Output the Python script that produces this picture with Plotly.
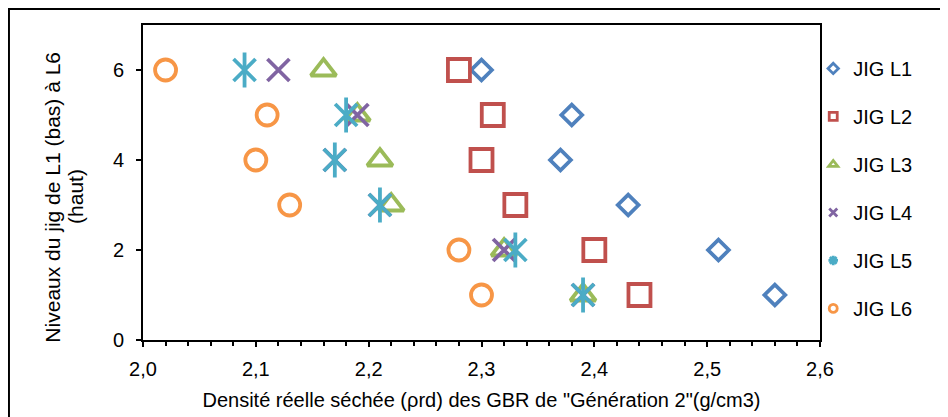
import plotly.graph_objects as go

# niveaux du jig (L1 bas -> L6 haut)
niveaux = [6, 5, 4, 3, 2, 1]

series_names = ["JIG L1", "JIG L2", "JIG L3", "JIG L4", "JIG L5", "JIG L6"]
jig_l1 = [2.30, 2.38, 2.37, 2.43, 2.51, 2.56]
jig_l2 = [2.28, 2.31, 2.30, 2.33, 2.40, 2.44]
jig_l3 = [2.16, 2.19, 2.21, 2.22, 2.32, 2.39]
jig_l4 = [2.12, 2.19, 2.17, 2.21, 2.32, 2.39]
jig_l5 = [2.09, 2.18, 2.17, 2.21, 2.33, 2.39]
jig_l6 = [2.02, 2.11, 2.10, 2.13, 2.28, 2.30]

x_ticks = [2.0, 2.1, 2.2, 2.3, 2.4, 2.5, 2.6]
y_ticks = [0, 2, 4, 6]

colors = ["#4F81BD", "#C0504D", "#9BBB59", "#8064A2", "#4BACC6", "#F79646"]
symbols = ["diamond-open", "square-open", "triangle-up-open", "x-thin-open", "x-thin-open", "circle-open"]
sizes = [16, 22, 22, 22, 22, 21]

FONT = "Liberation Sans, Arial, sans-serif"

fig = go.Figure()
all_x = [jig_l1, jig_l2, jig_l3, jig_l4, jig_l5, jig_l6]
for i, (name, xs) in enumerate(zip(series_names, all_x)):
    fig.add_trace(go.Scatter(
        x=xs, y=niveaux, mode="markers", name=name, showlegend=False,
        marker=dict(symbol=symbols[i], size=sizes[i], color=colors[i],
                    line=dict(color=colors[i], width=3.8)),
        cliponaxis=False,
    ))
    if name == "JIG L5":
        # trait vertical de l'astérisque Excel
        fig.add_trace(go.Scatter(
            x=xs, y=niveaux, mode="markers", showlegend=False,
            marker=dict(symbol="line-ns-open", size=25, color=colors[i],
                        line=dict(color=colors[i], width=3.8)),
        ))

# entrées de légende (petits symboles)
leg_symbols = ["diamond-open", "square-open", "triangle-up-open", "x-thin-open", "asterisk-open", "circle-open"]
for i, name in enumerate(series_names):
    fig.add_trace(go.Scatter(
        x=[None], y=[None], mode="markers", name=name, legendgroup=name,
        marker=dict(symbol=leg_symbols[i], size=8, color=colors[i],
                    line=dict(color=colors[i], width=2.8)),
    ))

# titre Y sur deux lignes, placé à la main (interligne serré comme Excel)
y_title_lines = ["Niveaux du jig de L1 (bas) à L6", "(haut)"]
y_title_x = [-0.133, -0.1]
annotations = [
    dict(text=t, xref="paper", yref="paper", x=xp, y=0.455,
         xanchor="center", yanchor="middle", textangle=-90, showarrow=False,
         font=dict(size=21))
    for t, xp in zip(y_title_lines, y_title_x)
]

# la page ajoute 8 px de marge au corps -> figure décalée
fig.update_layout(
    width=940, height=409,
    margin=dict(l=135, r=128, t=17, b=77),
    paper_bgcolor="white", plot_bgcolor="white",
    font=dict(family=FONT, size=20, color="black"),
    separators=", ",
    showlegend=True,
    legend=dict(x=0.99, y=0.924, xanchor="left", yanchor="top",
                font=dict(size=20), tracegroupgap=19, itemwidth=30,
                bgcolor="rgba(0,0,0,0)"),
    xaxis=dict(
        range=[2.0, 2.6], tickvals=x_ticks, tickformat=".1f",
        showgrid=False, zeroline=False, automargin=False,
        showline=True, linecolor="black", linewidth=2, mirror=True,
        ticks="outside", ticklen=5, tickwidth=1.5, tickcolor="black",
        ticklabelstandoff=5,
        minor=dict(dtick=0.02, ticks="outside", ticklen=4, tickwidth=1.5, tickcolor="black"),
        title=dict(text='Densité réelle séchée (ρrd) des GBR de "Génération 2"(g/cm3)',
                   font=dict(size=20), standoff=14),
    ),
    yaxis=dict(
        range=[0, 7], tickvals=y_ticks,
        showgrid=False, zeroline=False, automargin=False,
        showline=True, linecolor="black", linewidth=2, mirror=True,
        ticks="outside", ticklen=5, tickwidth=1.5, tickcolor="black",
        ticklabelstandoff=8,
    ),
    annotations=annotations,
    shapes=[dict(type="rect", xref="paper", yref="paper",
                 x0=-0.198, x1=1.3, y0=-0.4, y1=1.051,
                 line=dict(color="black", width=2), layer="below")],
)

fig.write_html("out.html")
